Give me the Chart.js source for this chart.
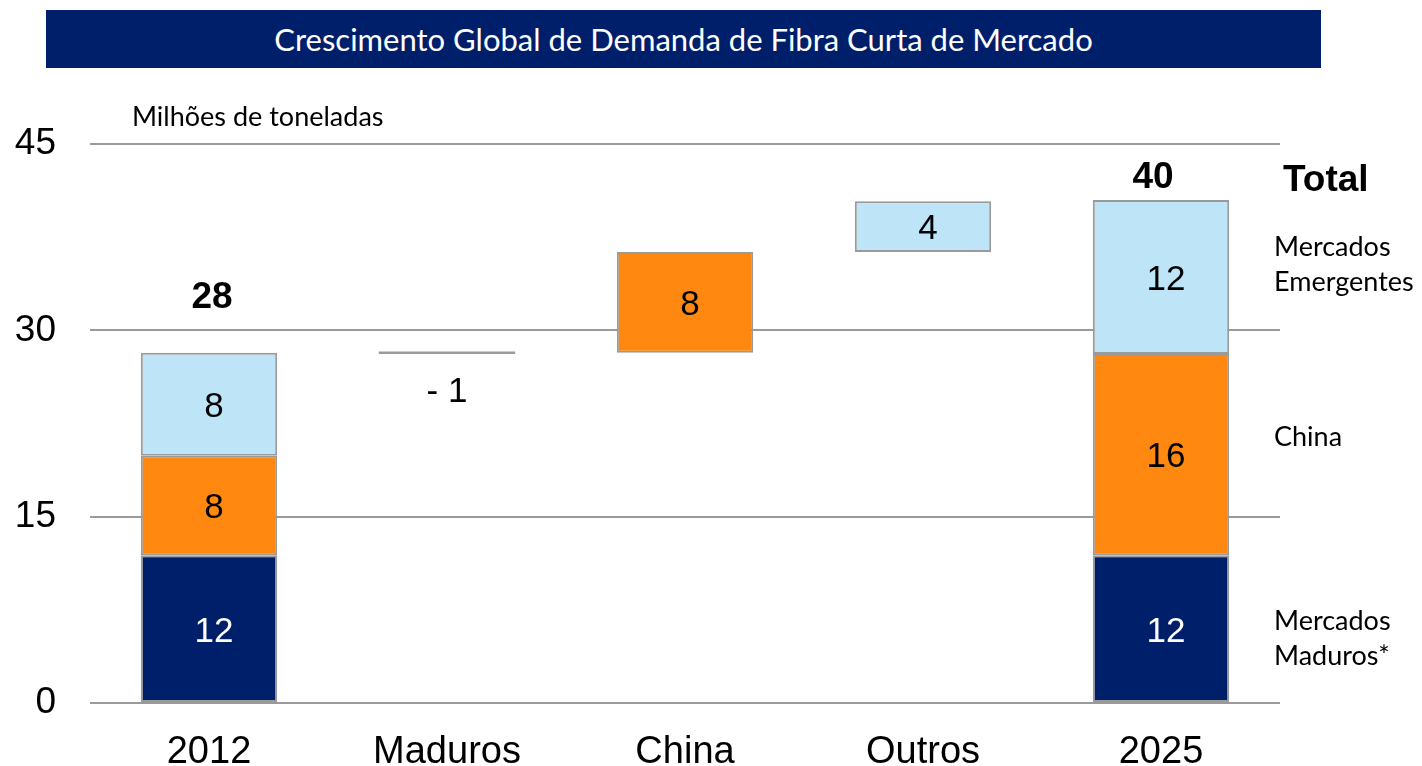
<!DOCTYPE html>
<html>
<head>
<meta charset="utf-8">
<script src="https://cdn.jsdelivr.net/npm/chart.js@4/dist/chart.umd.min.js"></script>
<style>
  body { margin: 0; background: #fff; }
  #wrap { position: relative; width: 1422px; height: 766px; }
  #titulo {
    position: absolute; left: 46px; top: 10px; width: 1275px; height: 58px;
    background: #001F6B; color: #fff; font: 31px Lato, sans-serif;
    display: flex; align-items: center; justify-content: center;
  }
  #unidade { position: absolute; left: 132px; top: 99px; font: 27px Lato, sans-serif; line-height: 34px; color: #000; }
  canvas { position: absolute; left: 0; top: 0; }
</style>
</head>
<body>
<div id="wrap">
  <canvas id="demandaChart" width="1422" height="766"></canvas>
  <div id="titulo">Crescimento Global de Demanda de Fibra Curta de Mercado</div>
  <div id="unidade">Milhões de toneladas</div>
</div>
<script>
// Dados (milhões de toneladas)
const categorias = ['2012', 'Maduros', 'China', 'Outros', '2025'];
const mercadosMaduros = [[0, 11.9], null, null, null, [0, 11.9]];
const mercadoChina = [[11.9, 19.9], null, [28.2, 36.3], null, [11.9, 28.1]];
const mercadosEmergentes = [[19.9, 28.2], null, null, [36.3, 40.4], [28.1, 40.5]];
const variacaoMaduros = [null, [28.1, 28.3], null, null, null];

const rotulosMaduros = ['12', '', '', '', '12'];
const rotulosChina = ['8', '', '8', '', '16'];
const rotulosEmergentes = ['8', '', '', '4', '12'];
const rotulosVariacao = ['', '- 1', '', '', ''];
const totais = ['28', '', '', '', '40'];
const yTicks = [0, 15, 30, 45];

const AZUL = '#001F6B';
const LARANJA = '#FF8811';
const AZUL_CLARO = '#BDE4F7';
const CINZA = '#9A9A9A';

const rotulosPlugin = {
    id: 'rotulos',
    afterDatasetsDraw(chart) {
        const ctx = chart.ctx;
        const x = chart.scales.x;
        const y = chart.scales.y;
        const grupos = [
            { data: mercadosMaduros, text: rotulosMaduros, color: '#fff' },
            { data: mercadoChina, text: rotulosChina, color: '#000' },
            { data: mercadosEmergentes, text: rotulosEmergentes, color: '#000' }
        ];
        ctx.save();
        ctx.textAlign = 'center';
        ctx.textBaseline = 'middle';
        ctx.font = '35px "Liberation Sans", Arial, sans-serif';
        grupos.forEach(g => {
            g.data.forEach((r, i) => {
                if (!r || !g.text[i]) return;
                ctx.fillStyle = g.color;
                ctx.fillText(g.text[i], x.getPixelForValue(i) + 5, y.getPixelForValue((r[0] + r[1]) / 2) + 3);
            });
        });

        // variação negativa abaixo da linha
        variacaoMaduros.forEach((r, i) => {
            if (!r) return;
            ctx.fillStyle = '#000';
            ctx.fillText(rotulosVariacao[i], x.getPixelForValue(i), y.getPixelForValue(r[0]) + 38);
        });

        // totais
        ctx.font = 'bold 37px "Liberation Sans", Arial, sans-serif';
        ctx.fillStyle = '#000';
        totais.forEach((t, i) => {
            if (!t) return;
            const topo = y.getPixelForValue(mercadosEmergentes[i][1]);
            const py = Math.max(topo - 55, y.getPixelForValue(45) + 34);
            ctx.fillText(t, x.getPixelForValue(i) + (i === 0 ? 3 : -8), py);
        });

        // legenda lateral
        ctx.font = 'bold 37px "Liberation Sans", Arial, sans-serif';
        ctx.textAlign = 'left';
        ctx.fillText('Total', 1283, 181);
        ctx.font = '27px Lato, sans-serif';
        ctx.fillText('Mercados', 1274, 247);
        ctx.fillText('Emergentes', 1274, 282);
        ctx.fillText('China', 1274, 437);
        ctx.fillText('Mercados', 1274, 621);
        ctx.fillText('Maduros*', 1274, 656);
        ctx.restore();
    }
};

const barra = {
    grouped: false,
    categoryPercentage: 1,
    barPercentage: 0.573,
    borderColor: CINZA,
    borderWidth: 2,
    borderSkipped: false
};

new Chart(document.getElementById('demandaChart').getContext('2d'), {
    type: 'bar',
    data: {
        labels: categorias,
        datasets: [
            { ...barra, label: 'Mercados Maduros', data: mercadosMaduros, backgroundColor: AZUL },
            { ...barra, label: 'China', data: mercadoChina, backgroundColor: LARANJA },
            { ...barra, label: 'Mercados Emergentes', data: mercadosEmergentes, backgroundColor: AZUL_CLARO },
            { ...barra, label: 'Variação', data: variacaoMaduros, backgroundColor: CINZA, borderWidth: 0 }
        ]
    },
    options: {
        responsive: false,
        animation: false,
        layout: { padding: { top: 144, right: 142, bottom: 0, left: 0 } },
        plugins: {
            legend: { display: false },
            tooltip: { enabled: false }
        },
        scales: {
            x: {
                grid: { display: false },
                border: { display: false },
                ticks: {
                    color: '#000',
                    padding: 19,
                    font: { family: '"Liberation Sans", Arial, sans-serif', size: 38 }
                },
                afterFit(scale) { scale.height = 63; }
            },
            y: {
                min: 0,
                max: 45,
                afterBuildTicks(scale) { scale.ticks = yTicks.map(v => ({ value: v })); },
                grid: { color: CINZA, lineWidth: 2, drawTicks: false },
                border: { display: false },
                ticks: {
                    color: '#000',
                    padding: 34,
                    font: { family: '"Liberation Sans", Arial, sans-serif', size: 37 }
                },
                afterFit(scale) { scale.width = 90; }
            }
        }
    },
    plugins: [rotulosPlugin]
});
</script>
</body>
</html>
